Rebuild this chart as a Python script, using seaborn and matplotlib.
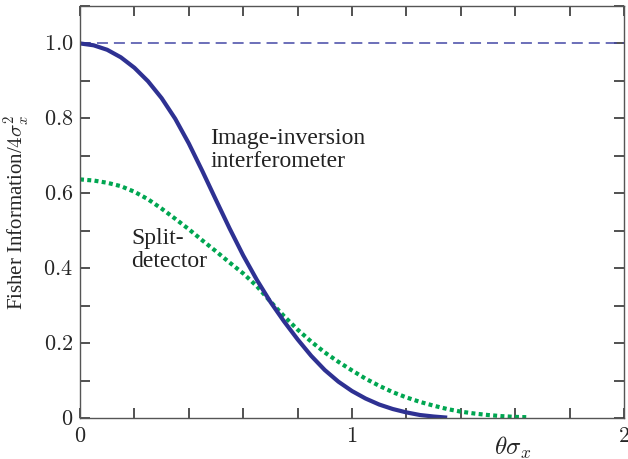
import seaborn as sns, matplotlib.pyplot as plt
import pandas as pd
from matplotlib.ticker import MultipleLocator, FixedLocator

# Datos (theta*sigma_x, Fisher info / 4 sigma_x^2)
x_iii = [0.0, 0.05, 0.10, 0.15, 0.20, 0.25, 0.30, 0.35, 0.40, 0.45, 0.50, 0.55, 0.60,
         0.65, 0.70, 0.75, 0.80, 0.85, 0.90, 0.95, 1.00, 1.05, 1.10, 1.15, 1.20, 1.25,
         1.30, 1.35]
f_iii = [1.000, 0.995, 0.983, 0.963, 0.935, 0.899, 0.854, 0.799, 0.733, 0.659, 0.582,
         0.506, 0.434, 0.369, 0.310, 0.258, 0.210, 0.166, 0.128, 0.097, 0.072, 0.052,
         0.036, 0.024, 0.015, 0.008, 0.004, 0.001]

x_split = [0.0, 0.05, 0.10, 0.15, 0.20, 0.25, 0.30, 0.35, 0.40, 0.45, 0.50, 0.55, 0.60,
           0.65, 0.70, 0.75, 0.80, 0.85, 0.90, 0.95, 1.00, 1.05, 1.10, 1.15, 1.20, 1.25,
           1.30, 1.35, 1.40, 1.45, 1.50, 1.55, 1.60, 1.65]
f_split = [0.637, 0.634, 0.628, 0.619, 0.604, 0.584, 0.559, 0.532, 0.504, 0.474, 0.445,
           0.415, 0.386, 0.352, 0.311, 0.272, 0.236, 0.204, 0.175, 0.150, 0.127, 0.105,
           0.086, 0.069, 0.055, 0.043, 0.033, 0.024, 0.017, 0.012, 0.008, 0.005, 0.003,
           0.002]

x_ref = [0.0, 2.0]
f_ref = [1.0, 1.0]

x_ticklabels = ['0', '1', '2']
y_ticklabels = ['0', '0.2', '0.4', '0.6', '0.8', '1.0']

sns.set_style('ticks')
plt.rcParams['font.family'] = ['Liberation Serif', 'DejaVu Serif']
plt.rcParams['mathtext.fontset'] = 'cm'

blue = '#2e3192'
green = '#00a651'

fig = plt.figure(figsize=(6.28, 4.59), dpi=100)
ax = fig.add_axes([0.1274, 0.0893, 0.8662, 0.8977])

iii = pd.DataFrame({'x': x_iii, 'f': f_iii})
split = pd.DataFrame({'x': x_split, 'f': f_split})
ref = pd.DataFrame({'x': x_ref, 'f': f_ref})

# linea de referencia discontinua
sns.lineplot(data=ref, x='x', y='f', ax=ax, color='#4448a6', lw=1.1, sort=False)
ax.lines[-1].set_dashes((7.2, 3.9))
# split-detector punteado
sns.lineplot(data=split, x='x', y='f', ax=ax, color=green, lw=3.0, sort=False)
ax.lines[-1].set_dashes((0.95, 0.8))
ax.lines[-1].set_dash_capstyle('butt')
# image-inversion continua
sns.lineplot(data=iii, x='x', y='f', ax=ax, color=blue, lw=3.0, sort=False)
ax.lines[-1].set_solid_capstyle('butt')
ax.lines[-1].set_solid_joinstyle('round')

ax.set_xlim(0, 2)
ax.set_ylim(0, 1.1)

# Ticks hacia adentro en los cuatro lados
ax.xaxis.set_major_locator(FixedLocator([0, 1, 2]))
ax.xaxis.set_minor_locator(MultipleLocator(0.2))
ax.yaxis.set_major_locator(FixedLocator([0, 0.2, 0.4, 0.6, 0.8, 1.0]))
ax.yaxis.set_minor_locator(MultipleLocator(0.1))
ax.set_xticklabels(['$' + t + '$' for t in x_ticklabels])
ax.set_yticklabels(['$' + t + '$' for t in y_ticklabels])
ax.tick_params(which='both', direction='in', length=7.5, width=1.1, color='#222222',
               top=True, right=True, labelsize=16, pad=5)
ax.tick_params(axis='x', pad=7)

for s in ax.spines.values():
    s.set_color('#555555')
    s.set_linewidth(1.0)

ax.set_ylabel(r'Fisher Information/$4\sigma_x^2$', fontsize=15)
ax.yaxis.set_label_coords(-0.088, 0.5)
ax.set_xlabel(r'$\theta\sigma_x$', fontsize=18)
ax.xaxis.set_label_coords(0.796, -0.040)

ax.text(0.478, 0.715, 'Image-inversion\ninterferometer', fontsize=17,
        ha='left', va='center', linespacing=1.1, color='#222222')
ax.text(0.188, 0.448, 'Split-\ndetector', fontsize=17,
        ha='left', va='center', linespacing=1.1, color='#222222')

fig.savefig('out.png', dpi=100)
